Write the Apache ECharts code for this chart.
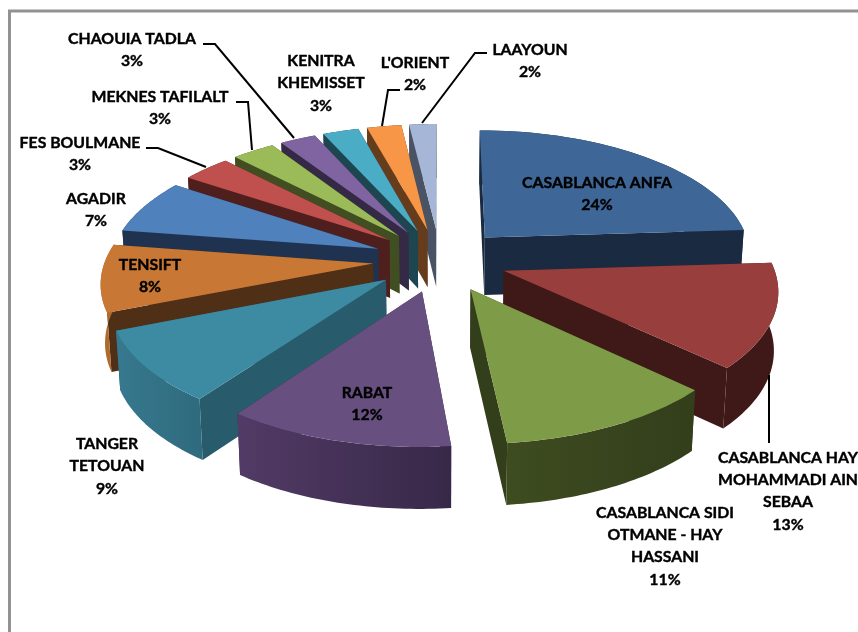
<!DOCTYPE html>
<html>
<head>
<meta charset="utf-8">
<style>html,body{margin:0;padding:0;background:#fff;overflow:hidden}#chart{width:858px;height:632px}</style>
<script src="https://cdn.jsdelivr.net/npm/echarts@6/dist/echarts.min.js"></script>
</head>
<body>
<div id="chart"></div>
<script>
const categories = ['CASABLANCA ANFA', 'CASABLANCA HAY\nMOHAMMADI AIN\nSEBAA', 'CASABLANCA SIDI\nOTMANE - HAY\nHASSANI', 'RABAT', 'TANGER\nTETOUAN', 'TENSIFT', 'AGADIR', 'FES BOULMANE', 'MEKNES TAFILALT', 'CHAOUIA TADLA', 'KENITRA\nKHEMISSET', "L'ORIENT", 'LAAYOUN'];
// shares, the labels show them rounded
const values = [24, 13, 11.4, 11.6, 9, 8.4, 6.9, 3.4, 3, 2.5, 2.5, 2.4, 1.9];

const topColors = ['#3E6797', '#983F3D', '#7E9B48', '#67507F', '#3C8BA3', '#C87834', '#4F81BD', '#C0504D', '#9BBB59', '#8064A2', '#4BACC6', '#F79646', '#A6B6D6'];
const wallColors = ['#1A2A40', '#3F1917', '#333E1B', '#3A2A4A', '#285B6B', '#4F2F15', '#1F3350', '#4F1F1E', '#404E22', '#352A45', '#1E4650', '#653D1C', '#4A5364'];
const rimLeft = ['#1A2A40', '#3F1917', '#3E4C20', '#523B66', '#37798F', '#B06A2C', '#1F3350', '#4F1F1E', '#404E22', '#352A45', '#1E4650', '#653D1C', '#4A5364'];
const rimRight = ['#1A2A40', '#3F1917', '#333E1B', '#382848', '#2F6A7D', '#B06A2C', '#1F3350', '#4F1F1E', '#404E22', '#352A45', '#1E4650', '#653D1C', '#4A5364'];
// back to front
const drawOrder = [0, 1, 2, 12, 11, 10, 9, 8, 7, 6, 5, 4, 3];

// label anchor: x centre, y of the middle of the block
const labelPos = [[597, 194], [788, 491], [665, 546], [367, 404], [107, 466], [150, 276], [96, 210], [80, 154], [160, 108], [132, 50], [321, 83], [415, 74], [530, 61]];
const leaders = [
  [[203, 44], [215, 44], [294, 138]],
  [[236, 102], [248, 102], [252, 150]],
  [[146, 148], [158, 148], [206, 167]],
  [[400, 90], [388, 90], [382, 126]],
  [[487, 53], [475, 53], [422, 123]],
  [[769, 375], [769, 443]],
];

const cx = 440, cy = 260;
const radiusX = 268, radiusY = 126.4, persp = 0.1295, explode = 0.25;

const total = values.reduce((a, b) => a + b);
let sum = 0;
const starts = values.map((v) => { const s = sum; sum += v; return (s / total) * Math.PI * 2; });

// disk plane to screen, pie is tilted so the far side is smaller
function project(x, y, low) {
  const w = 1 + persp * y;
  if (!low) return [cx + (radiusX * x) / w, cy - (radiusY * y) / w];
  return [cx + (0.987 * radiusX * x) / w, cy - (radiusY * y) / w + 58 - 3.2 * y];
}

function renderSlice(params, api) {
  const i = api.value(0);
  const a0 = starts[i];
  const a1 = a0 + (api.value(1) / total) * Math.PI * 2;
  const mid = (a0 + a1) / 2;
  const ox = explode * Math.sin(mid), oy = explode * Math.cos(mid);
  const apex = project(ox, oy, false);
  const apexLow = project(ox, oy, true);
  const n = 40;
  const topArc = [], baseArc = [];
  for (let k = 0; k <= n; k++) {
    const a = a0 + ((a1 - a0) * k) / n;
    topArc.push(project(ox + Math.sin(a), oy + Math.cos(a), false));
    baseArc.push(project(ox + Math.sin(a), oy + Math.cos(a), true));
  }
  const wall = (pts) => ({ type: 'polygon', shape: { points: pts }, style: { fill: wallColors[i] } });
  return {
    type: 'group',
    children: [
      wall([apex, topArc[0], baseArc[0], apexLow]),
      wall([apex, topArc[n], baseArc[n], apexLow]),
      {
        type: 'polygon',
        shape: { points: topArc.concat(baseArc.slice().reverse()) },
        style: { fill: new echarts.graphic.LinearGradient(0, 0, 1, 0, [{ offset: 0, color: rimLeft[i] }, { offset: 1, color: rimRight[i] }]) },
      },
      { type: 'polygon', shape: { points: [apex].concat(topArc) }, style: { fill: topColors[i] } },
    ],
  };
}

const labelElements = categories.map((name, i) => ({
  type: 'text',
  x: labelPos[i][0],
  y: labelPos[i][1],
  z: 100,
  style: {
    text: name + '\n' + Math.round(values[i]) + '%',
    font: 'bold 15.8px Lato',
    fill: '#000',
    stroke: '#000',
    lineWidth: 0.4,
    align: 'center',
    verticalAlign: 'middle',
    lineHeight: 22.4,
  },
}));
const leaderElements = leaders.map((pts) => ({
  type: 'polyline',
  z: 90,
  shape: { points: pts },
  style: { stroke: '#000', lineWidth: 2, fill: 'none' },
}));

const chart = echarts.init(document.getElementById('chart'), null, { renderer: 'canvas' });
chart.setOption({
  animation: false,
  backgroundColor: '#fff',
  graphic: {
    elements: [
      { type: 'rect', z: 0, shape: { x: 9.5, y: 11, width: 900, height: 700 }, style: { stroke: '#929292', lineWidth: 3, fill: '#fff' } },
    ].concat(leaderElements, labelElements),
  },
  series: [
    {
      type: 'custom',
      coordinateSystem: 'none',
      z: 10,
      silent: true,
      renderItem: renderSlice,
      encode: { value: [0, 1] },
      data: drawOrder.map((i) => [i, values[i]]),
    },
  ],
});
</script>
</body>
</html>
